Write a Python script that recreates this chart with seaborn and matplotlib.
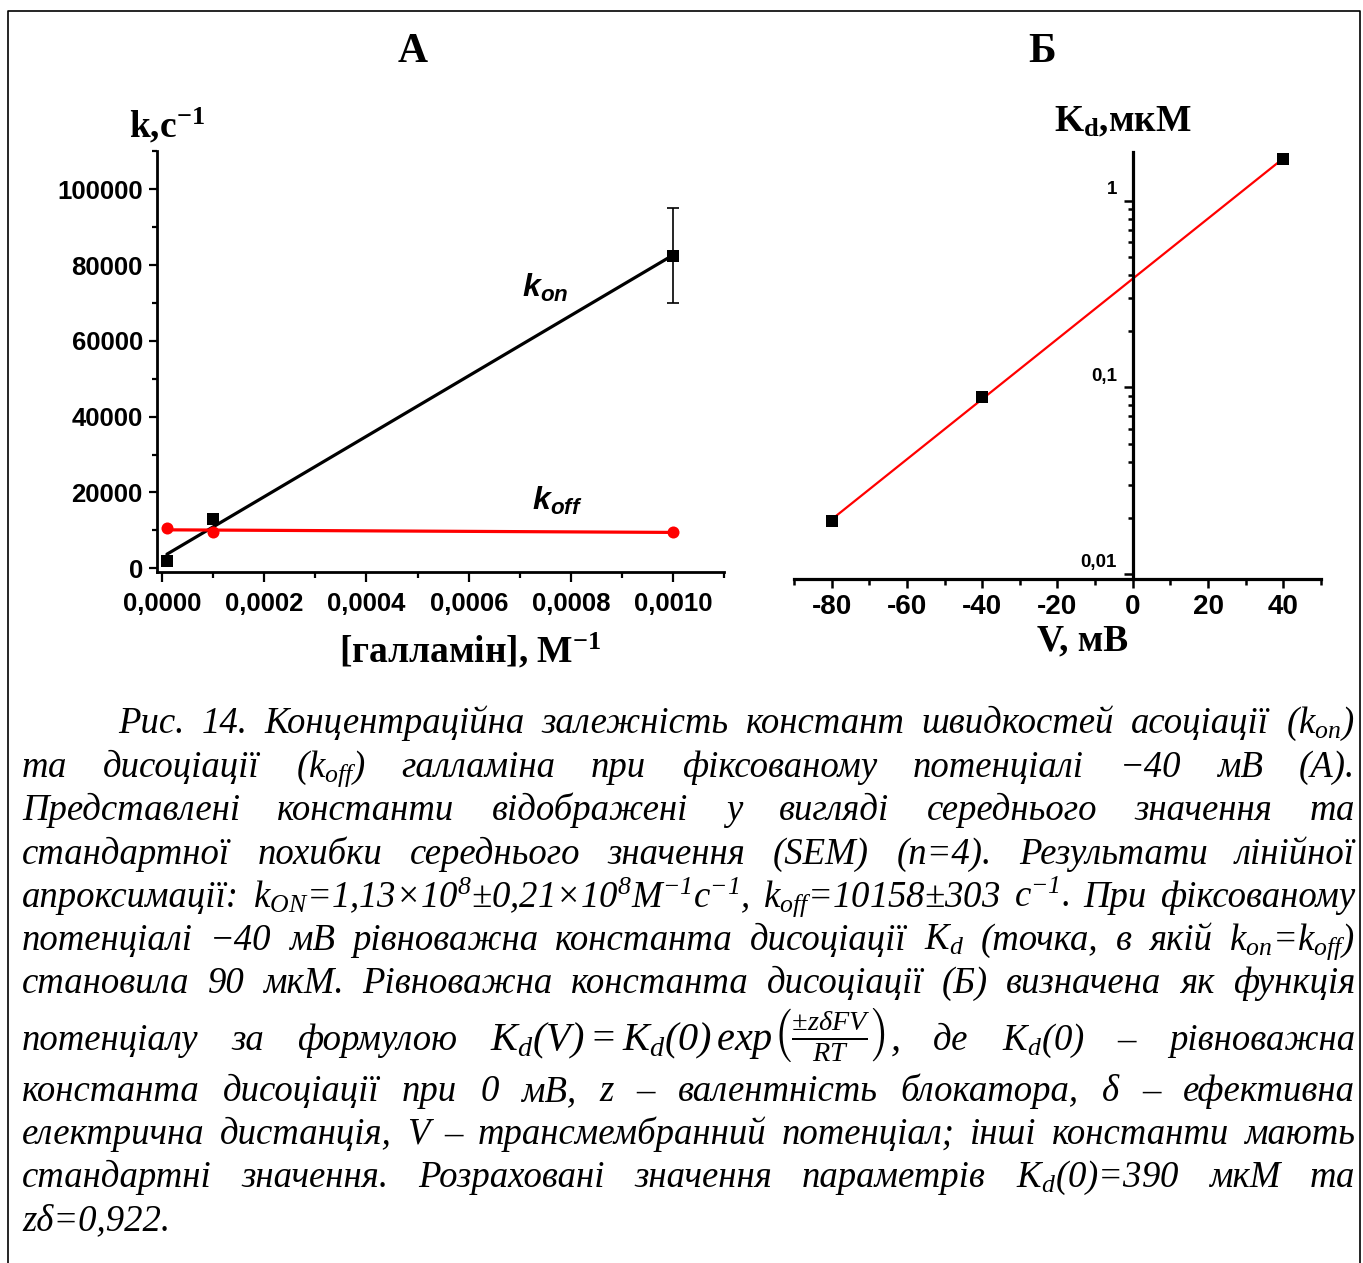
import numpy as np
import matplotlib
matplotlib.use("Agg")
import matplotlib.pyplot as plt
import seaborn as sns
from matplotlib.ticker import FixedLocator, MultipleLocator, LogLocator, NullFormatter
from matplotlib.lines import Line2D

# ---------------- DATA ----------------
gallamine_M = [0.00001, 0.0001, 0.001]
k_on = [1800, 13000, 82500]
k_on_sem = [0, 0, 12500]
k_off = [10500, 9700, 9500]

voltage_mV = [-80, -40, 40]
kd_values = [0.0192, 0.089, 1.67]

a_xticks = [0, 0.0002, 0.0004, 0.0006, 0.0008, 0.0010]
a_yticks = [0, 20000, 40000, 60000, 80000, 100000]
b_xticks = [-80, -60, -40, -20, 0, 20, 40]
b_yticks = [0.01, 0.1, 1]
b_yticklabels = ["0,01", "0,1", "1"]

FORMULA = r"$K_d(V) = K_d(0)\,exp\left(\frac{\pm z\delta FV}{RT}\right)$,"

caption = [
    ["Рис.", "14.", "Концентраційна", "залежність", "констант", "швидкостей", "асоціації", "(k$_{on}$)"],
    ["та", "дисоціації", "(k$_{off}$)", "галламіна", "при", "фіксованому", "потенціалі", "−40", "мВ", "(А)."],
    ["Представлені", "константи", "відображені", "у", "вигляді", "середнього", "значення", "та"],
    ["стандартної", "похибки", "середнього", "значення", "(SEM)", "(n=4).", "Результати", "лінійної"],
    ["апроксимації:", "k$_{ON}$=1,13×10$^{8}$±0,21×10$^{8}$M$^{-1}$c$^{-1}$,", "k$_{off}$=10158±303",
     "c$^{-1}$.", "При", "фіксованому"],
    ["потенціалі", "−40", "мВ", "рівноважна", "константа", "дисоціації", "K$_{d}$", "(точка,", "в", "якій",
     "k$_{on}$=k$_{off}$)"],
    ["становила", "90", "мкМ.", "Рівноважна", "константа", "дисоціації", "(Б)", "визначена", "як", "функція"],
    ["потенціалу", "за", "формулою", FORMULA, "де", "K$_{d}$(0)", "–", "рівноважна"],
    ["константа", "дисоціації", "при", "0", "мВ,", "z", "–", "валентність", "блокатора,", "δ", "–", "ефективна"],
    ["електрична", "дистанція,", "V", "–", "трансмембранний", "потенціал;", "інші", "константи", "мають"],
    ["стандартні", "значення.", "Розраховані", "значення", "параметрів", "K$_{d}$(0)=390", "мкМ", "та"],
    ["zδ=0,922."],
]
caption_baselines = [733, 777, 820, 864, 907, 950, 993, 1050, 1101, 1144, 1187, 1230]

# ---------------- STYLE ----------------
sns.set_theme(style="ticks")
plt.rcParams["font.family"] = ["Liberation Sans", "DejaVu Sans"]
plt.rcParams.update({
    "text.color": "black", "axes.edgecolor": "black", "axes.labelcolor": "black",
    "xtick.color": "black", "ytick.color": "black",
    "mathtext.fontset": "custom",
    "mathtext.rm": "Liberation Serif:italic",
    "mathtext.it": "Liberation Serif:italic",
    "mathtext.bf": "Liberation Serif:bold",
    "mathtext.sf": "Liberation Sans:bold:italic",
})

W, H = 1363, 1263


def fx(px):
    return px / W


def fy(py):
    return 1 - py / H


fig = plt.figure(figsize=(W / 100, H / 100), dpi=100)
fig.patch.set_facecolor("white")

serif_bold = dict(family="Liberation Serif", weight="bold", color="black")

# ---------------- PANEL A ----------------
axA = fig.add_axes([fx(156.7), fy(571.7), 567.8 / W, 420.3 / H])
axA.set_facecolor("white")

on_fit = np.polyfit(gallamine_M, k_on, 1)
off_fit = np.polyfit(gallamine_M, k_off, 1)
fit_x = np.array([gallamine_M[0], gallamine_M[-1]])

sns.lineplot(x=fit_x, y=np.polyval(on_fit, fit_x), ax=axA, color="black", linewidth=2.3, zorder=2)
sns.lineplot(x=fit_x, y=np.polyval(off_fit, fit_x), ax=axA, color="#ff0000", linewidth=2.3, zorder=2)
axA.errorbar(gallamine_M, k_on, yerr=k_on_sem, fmt="none", ecolor="black",
             elinewidth=1.2, capsize=4, capthick=1.2, zorder=3)
sns.scatterplot(x=gallamine_M, y=k_on, ax=axA, marker="s", s=70, color="black",
                edgecolor="black", linewidth=0, zorder=4)
sns.scatterplot(x=gallamine_M, y=k_off, ax=axA, marker="o", s=75, color="#ff0000",
                edgecolor="#ff0000", linewidth=0, zorder=4)

axA.set_xlim(-0.00001, 0.0011)
axA.set_ylim(-900, 110000)
for s in ["top", "right"]:
    axA.spines[s].set_visible(False)
for s in ["left", "bottom"]:
    axA.spines[s].set_linewidth(2.0)
    axA.spines[s].set_color("black")

axA.xaxis.set_major_locator(FixedLocator(a_xticks))
axA.set_xticklabels([f"{v:.4f}".replace(".", ",") for v in a_xticks],
                    fontsize=18.5, fontweight="bold", color="black")
axA.xaxis.set_minor_locator(MultipleLocator(0.0001))
axA.yaxis.set_major_locator(FixedLocator(a_yticks))
axA.set_yticklabels([str(v) for v in a_yticks], fontsize=18.5, fontweight="bold", color="black")
axA.yaxis.set_minor_locator(MultipleLocator(10000))
axA.tick_params(axis="x", which="major", length=7.5, width=1.6, pad=7, color="black")
axA.tick_params(axis="x", which="minor", length=4, width=1.6, color="black")
axA.tick_params(axis="y", which="major", length=6, width=1.6, pad=4, color="black")
axA.tick_params(axis="y", which="minor", length=3.5, width=1.6, color="black")
axA.set_xlabel("")
axA.set_ylabel("")

axA.text(0.000704, 71600, r"$\mathsf{k_{on}}$", fontsize=23, va="baseline", ha="left", color="black")
axA.text(0.000724, 15400, r"$\mathsf{k_{off}}$", fontsize=23, va="baseline", ha="left", color="black")

# ---------------- PANEL B ----------------
axB = fig.add_axes([fx(793.9), fy(579), (1321 - 793.9) / W, 427.3 / H])
axB.set_facecolor("white")
axB.set_yscale("log")

kd_fit = np.polyfit(voltage_mV, np.log10(kd_values), 1)
fit_v = np.array([voltage_mV[0], voltage_mV[-1]])
sns.lineplot(x=fit_v, y=10 ** np.polyval(kd_fit, fit_v), ax=axB, color="#ff0000",
             linewidth=1.6, zorder=2)
sns.scatterplot(x=voltage_mV, y=kd_values, ax=axB, marker="s", s=70, color="black",
                edgecolor="black", linewidth=0, zorder=3)

axB.set_xlim(-90, 50)
axB.set_ylim(0.0094, 1.83)
for s in ["top", "right"]:
    axB.spines[s].set_visible(False)
axB.spines["left"].set_position(("data", 0))
for s in ["left", "bottom"]:
    axB.spines[s].set_linewidth(2.3)
    axB.spines[s].set_color("black")

axB.xaxis.set_major_locator(FixedLocator(b_xticks))
axB.set_xticklabels([str(v) for v in b_xticks], fontsize=20, fontweight="bold", color="black")
axB.xaxis.set_minor_locator(MultipleLocator(10))
axB.yaxis.set_major_locator(FixedLocator(b_yticks))
axB.yaxis.set_major_formatter(NullFormatter())
axB.yaxis.set_minor_locator(LogLocator(base=10, subs=np.arange(2, 10)))
axB.yaxis.set_minor_formatter(NullFormatter())
axB.tick_params(axis="x", which="major", length=6.5, width=1.8, pad=4, color="black")
axB.tick_params(axis="x", which="minor", length=4, width=1.8, color="black")
axB.tick_params(axis="y", which="major", length=6.5, width=1.8, color="black")
axB.tick_params(axis="y", which="minor", length=3.5, width=1.8, color="black")
axB.set_xlabel("")
axB.set_ylabel("")

for v, lab in zip(b_yticks, b_yticklabels):
    axB.annotate(lab, xy=(0, v), xycoords="data", xytext=(-16, 11),
                 textcoords="offset pixels", ha="right", va="center", color="black",
                 fontsize=13.5, fontweight="bold", annotation_clip=False)

# ---------------- TITLES ----------------
fig.text(fx(413), fy(52), "А", fontsize=30, ha="center", va="center", **serif_bold)
fig.text(fx(1042), fy(52), "Б", fontsize=30, ha="center", va="center", **serif_bold)
fig.text(fx(129), fy(137), r"k,c$^{\mathbf{-1}}$", fontsize=27, ha="left", va="baseline", **serif_bold)
fig.text(fx(470), fy(662), r"[галламін], М$^{\mathbf{-1}}$", fontsize=27, ha="center",
         va="baseline", **serif_bold)
fig.text(fx(1123), fy(131), r"K$_{\mathbf{d}}$,мкМ", fontsize=27, ha="center", va="baseline",
         **serif_bold)
fig.text(fx(1083), fy(650), "V, мВ", fontsize=27, ha="center", va="baseline", **serif_bold)

# ---------------- CAPTION ----------------
renderer = fig.canvas.get_renderer()
cap_size = 26.5
left, right, indent = 22, 1355, 118

for i, (tokens, base) in enumerate(zip(caption, caption_baselines)):
    x0 = indent if i == 0 else left
    objs = []
    for t in tokens:
        size = 29 if t == FORMULA else cap_size
        objs.append(fig.text(0, fy(base), t, ha="left", va="baseline", color="black",
                             family="Liberation Serif", style="italic", size=size))
    widths = [o.get_window_extent(renderer).width for o in objs]
    last = i == len(caption) - 1
    if len(objs) > 1 and not last:
        gap = (right - x0 - sum(widths)) / (len(objs) - 1)
    else:
        gap = 9
    x = x0
    for o, w in zip(objs, widths):
        o.set_x(fx(x))
        x += w + gap

# ---------------- FRAME ----------------
fig.add_artist(Line2D([fx(8), fx(8), fx(1360), fx(1360)], [0, fy(11), fy(11), 0],
                      transform=fig.transFigure, color="black", linewidth=1.2))

fig.savefig("out.png", dpi=100, facecolor="white")
